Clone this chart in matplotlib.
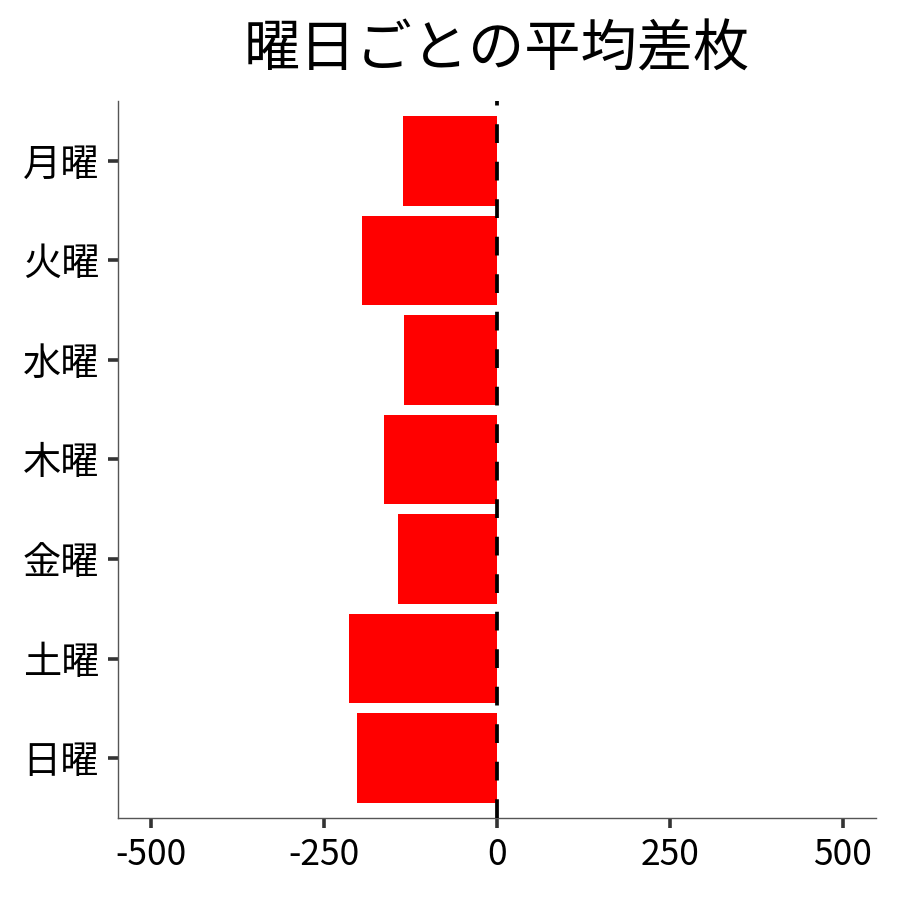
import matplotlib
matplotlib.use("Agg")
import matplotlib.pyplot as plt

plt.rcParams['font.family'] = ['Noto Sans CJK JP', 'DejaVu Sans']

# 曜日ごとの平均差枚
days = ['月曜', '火曜', '水曜', '木曜', '金曜', '土曜', '日曜']
avg_diff = [-136, -195, -134, -163, -143, -214, -202]
xticks = [-500, -250, 0, 250, 500]
xtick_labels = ['-500', '-250', '0', '250', '500']

fig = plt.figure(figsize=(9, 9), dpi=100)
ax = fig.add_axes([0.1311, 0.0911, 0.8422, 0.7967])

ypos = list(range(len(days), 0, -1))
ax.barh(ypos, avg_diff, height=0.9, color='#ff0000', zorder=2)
ax.axvline(0, color='black', linestyle=(0, (5, 5)), linewidth=2.7, zorder=3)

ax.set_xlim(-548, 548)
ax.set_ylim(0.4, 7.6)
ax.set_yticks(ypos)
ax.set_yticklabels(days)
ax.set_xticks(xticks)
ax.set_xticklabels(xtick_labels)

for s in ['top', 'right']:
    ax.spines[s].set_visible(False)
for s in ['left', 'bottom']:
    ax.spines[s].set_color('#555555')
    ax.spines[s].set_linewidth(1.0)

ax.tick_params(axis='both', length=7.5, width=2.6, color='#333333',
               labelcolor='black', pad=6)
ax.tick_params(axis='y', labelsize=27.5)
ax.tick_params(axis='x', labelsize=25.5)

ax.set_title('曜日ごとの平均差枚', fontsize=40.5, pad=25)

fig.savefig('out.png', dpi=100)
